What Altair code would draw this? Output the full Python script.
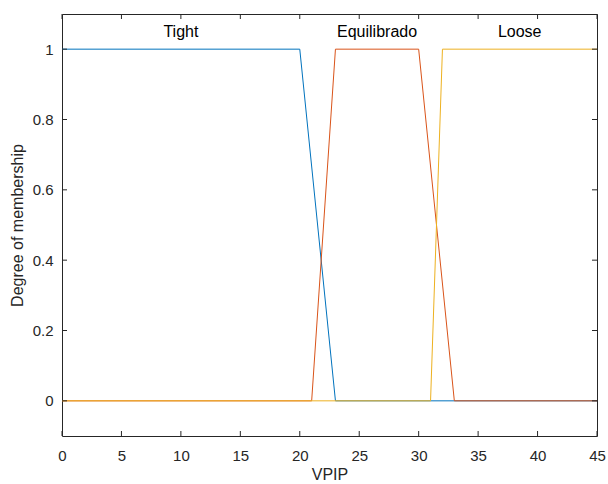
import altair as alt
import pandas as pd

# membership function breakpoints
tight_x = [0, 20, 23, 45]
tight_y = [1, 1, 0, 0]
equi_x = [0, 21, 23, 30, 33, 45]
equi_y = [0, 0, 1, 1, 0, 0]
loose_x = [0, 31, 32, 45]
loose_y = [0, 0, 1, 1]

series_names = ["Tight", "Equilibrado", "Loose"]
series_colors = ["#0072BD", "#D95319", "#EDB120"]
label_x = [10, 26.5, 38.5]
label_y = [1.05, 1.05, 1.05]

x_ticks = [0, 5, 10, 15, 20, 25, 30, 35, 40, 45]
y_ticks = [0, 0.2, 0.4, 0.6, 0.8, 1]

W, H = 535, 422
FONT = "Liberation Sans"
AX = "#262626"

xs = alt.Scale(domain=[0, 45], nice=False, zero=False)
ys = alt.Scale(domain=[-0.1, 1.1], nice=False, zero=False)

xaxis = alt.Axis(values=x_ticks, ticks=False, domain=False, grid=False, format="~g",
                 labelFont=FONT, labelFontSize=15, labelColor=AX, labelPadding=12,
                 title="VPIP", titleFont=FONT, titleFontSize=16, titleFontWeight="normal",
                 titleColor=AX, titlePadding=3, labelFlush=False)
yaxis = alt.Axis(values=y_ticks, ticks=False, domain=False, grid=False, format="~g",
                 labelFont=FONT, labelFontSize=15, labelColor=AX, labelPadding=9,
                 title="Degree of membership", titleFont=FONT, titleFontSize=16,
                 titleFontWeight="normal", titleColor=AX, titlePadding=7, labelFlush=False)

layers = []
for name, xv, yv, col in zip(series_names, [tight_x, equi_x, loose_x],
                             [tight_y, equi_y, loose_y], series_colors):
    df = pd.DataFrame({"x": xv, "y": yv, "i": list(range(len(xv)))})
    layers.append(
        alt.Chart(df).mark_line(color=col, strokeWidth=1).encode(
            x=alt.X("x:Q", scale=xs, axis=xaxis),
            y=alt.Y("y:Q", scale=ys, axis=yaxis),
            order="i:O",
        )
    )

labels_df = pd.DataFrame({"name": series_names, "x": label_x, "y": label_y})
labels = alt.Chart(labels_df).mark_text(font=FONT, fontSize=16, color="#000000",
                                        baseline="middle", align="center").encode(
    x=alt.X("x:Q", scale=xs, axis=xaxis),
    y=alt.Y("y:Q", scale=ys, axis=yaxis),
    text="name:N",
)

xt = pd.DataFrame({"x": x_ticks})
yt = pd.DataFrame({"y": y_ticks})
tick_len = 5
xb = alt.Chart(xt).mark_rule(color=AX, strokeWidth=1).encode(
    x=alt.X("x:Q", scale=xs, axis=xaxis), y=alt.value(H), y2=alt.value(H - tick_len))
xtop = alt.Chart(xt).mark_rule(color=AX, strokeWidth=1).encode(
    x=alt.X("x:Q", scale=xs, axis=xaxis), y=alt.value(0), y2=alt.value(tick_len))
yl = alt.Chart(yt).mark_rule(color=AX, strokeWidth=1).encode(
    y=alt.Y("y:Q", scale=ys, axis=yaxis), x=alt.value(0), x2=alt.value(tick_len))
yr = alt.Chart(yt).mark_rule(color=AX, strokeWidth=1).encode(
    y=alt.Y("y:Q", scale=ys, axis=yaxis), x=alt.value(W), x2=alt.value(W - tick_len))

chart = alt.layer(*layers, labels, xb, xtop, yl, yr).properties(
    width=W, height=H,
    autosize=alt.AutoSizeParams(type="none"),
    padding={"left": 62, "top": 14, "right": 11, "bottom": 48},
    background="white",
).configure_view(stroke=AX, strokeWidth=1)

chart.save("out.html", embed_options={"renderer": "svg", "actions": False})
